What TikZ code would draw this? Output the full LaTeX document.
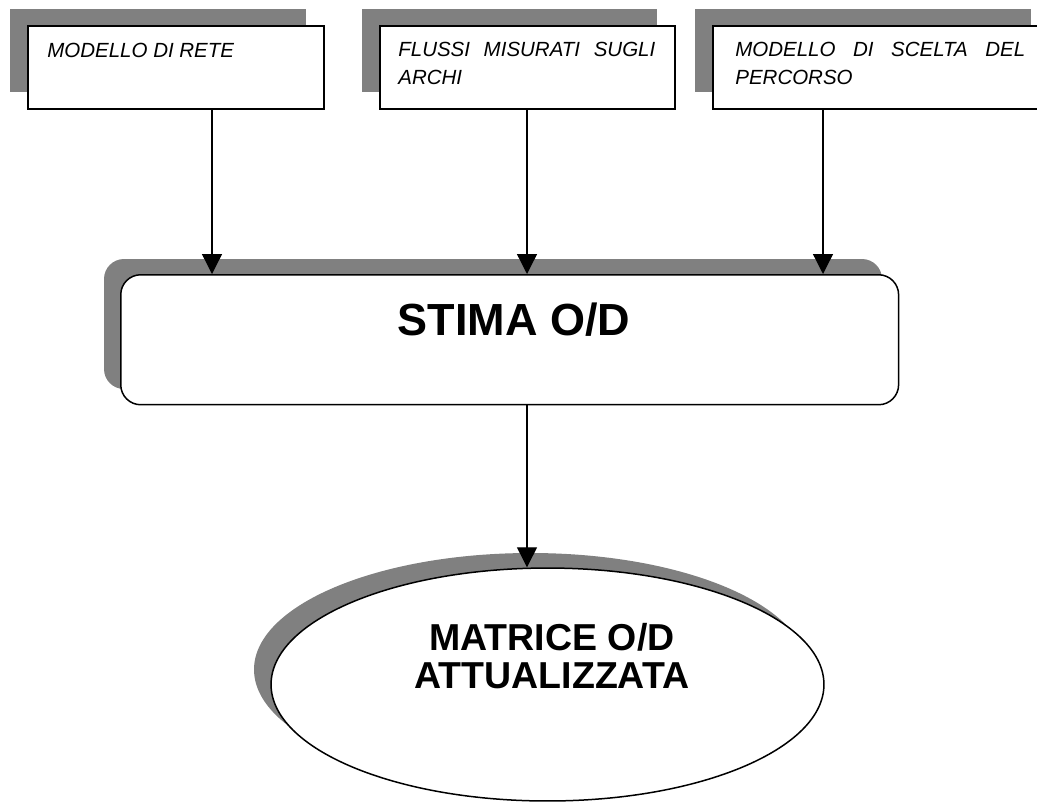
\documentclass[tikz,border=0pt]{standalone}
\usepackage{fontspec}
\setmainfont{Liberation Sans}
\usetikzlibrary{arrows.meta,shapes.geometric,positioning}

\definecolor{ombra}{HTML}{808080}

\tikzset{
	ingresso/.style={draw, line width=0.04cm, fill=white, rectangle, anchor=north west, inner sep=0pt},
	testoing/.style={anchor=base west, inner sep=0pt, align=justify,
		font=\fontsize{0.41cm}{0.56cm}\selectfont\itshape},
	ombrabox/.style={fill=ombra, draw=none},
	freccia/.style={line width=0.026cm, -{Triangle[width=0.4cm,length=0.4cm]}},
	titolo/.style={inner sep=0pt, align=center, font=\fontsize{0.9cm}{1cm}\selectfont\bfseries}
}

\begin{document}
\begin{tikzpicture}[x=0.02cm,y=-0.02cm]
	\useasboundingbox (0,0) rectangle (1037,802);
	\clip (0,0) rectangle (1037,802);

	% ombre dei riquadri in alto
	\fill[ombrabox] (10,9) rectangle (306,92);
	\fill[ombrabox] (362,9) rectangle (657,92);
	\fill[ombrabox] (695,9) rectangle (1031,92);

	% riquadri dei dati in ingresso
	\node[ingresso, minimum width=5.92cm, minimum height=1.66cm] (rete) at (27,25) {};
	\node[ingresso, minimum width=5.9cm, minimum height=1.66cm] (flussi) at (379,25) {};
	\node[ingresso, minimum width=6.72cm, minimum height=1.66cm] (scelta) at (712,25) {};
	\node[testoing, text width=5.14cm] (retetxt) at ([shift={(20,32)}]rete.north west) {MODELLO DI RETE};
	\node[testoing, text width=5.14cm] (flussitxt) at ([shift={(19,31)}]flussi.north west) {FLUSSI MISURATI SUGLI\linebreak ARCHI};
	\node[testoing, text width=5.8cm] (sceltatxt) at ([shift={(23,31)}]scelta.north west) {MODELLO DI SCELTA DEL\linebreak PERCORSO};

	% stima
	\fill[ombrabox, rounded corners=0.4cm] (104,259) rectangle (882,389);
	\node[draw, line width=0.03cm, fill=white, rounded corners=0.4cm, anchor=north west,
		minimum width=15.56cm, minimum height=2.6cm, inner sep=0pt] (stima) at (120,274) {};
	\node[titolo, anchor=base] (stimatxt) at (514,335) {STIMA O/D};

	% matrice aggiornata
	\fill[ombra] (530.5,669.5) ellipse [x radius=276.5, y radius=116.5];
	\node[draw, ellipse, line width=0.03cm, fill=white, minimum width=11.06cm,
		minimum height=4.66cm, inner sep=0pt] (matrice) at (547.5,684.5) {};
	\node[titolo, font=\fontsize{0.75cm}{0.77cm}\selectfont\bfseries] (matricetxt) at (552,656) {MATRICE O/D\\ATTUALIZZATA};

	% frecce
	\coordinate (x1) at (212,0);
	\coordinate (x2) at (527,0);
	\coordinate (x3) at (823,0);
	\draw[freccia] (x1 |- rete.south) -- (x1 |- stima.north);
	\draw[freccia] (x2 |- flussi.south) -- (x2 |- stima.north);
	\draw[freccia] (x3 |- scelta.south) -- (x3 |- stima.north);
	\draw[freccia] (x2 |- stima.south) -- (x2 |- matrice.north);
\end{tikzpicture}
\end{document}
